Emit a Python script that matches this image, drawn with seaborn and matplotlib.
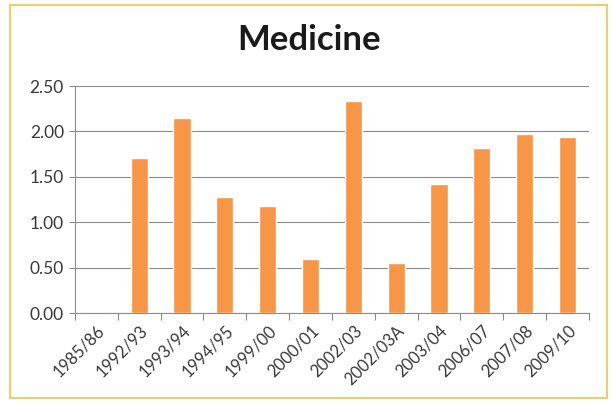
import matplotlib
matplotlib.use("Agg")
import matplotlib.pyplot as plt
from matplotlib.patches import Rectangle
import seaborn as sns
import pandas as pd

# Academic years and their values for Medicine
years = ["1985/86", "1992/93", "1993/94", "1994/95", "1999/00", "2000/01",
         "2002/03", "2002/03A", "2003/04", "2006/07", "2007/08", "2009/10"]
values = [0.00, 1.71, 2.15, 1.28, 1.18, 0.60, 2.34, 0.55, 1.42, 1.82, 1.97, 1.94]

df = pd.DataFrame({"year": years, "value": values})

sns.set_theme(style="white")
plt.rcParams["font.family"] = ["Lato", "DejaVu Sans"]

fig = plt.figure(figsize=(6.12, 4.03), dpi=100)
ax = fig.add_axes([0.1225, 0.2233, 0.8399, 0.5633])

sns.barplot(data=df, x="year", y="value", color="#F79646", saturation=1,
            width=0.40, ax=ax)

ax.set_ylim(0, 2.5)
ax.set_xlim(-0.5, len(years) - 0.5)
ax.set_yticks([0, 0.5, 1.0, 1.5, 2.0, 2.5])
ax.set_yticklabels([f"{v:.2f}" for v in [0, 0.5, 1.0, 1.5, 2.0, 2.5]])
ax.yaxis.grid(True, color="#8c8c8c", linewidth=0.8)
ax.set_axisbelow(True)
ax.set_xlabel("")
ax.set_ylabel("")

# category labels at centres, tick marks at category boundaries
ax.set_xticks(range(len(years)))
ax.set_xticklabels(years, rotation=45, ha="right", rotation_mode="anchor")
ax.set_xticks([i - 0.5 for i in range(len(years) + 1)], minor=True)
ax.tick_params(axis="x", which="major", length=0, pad=7, labelsize=12,
               labelcolor="#3a3a3a")
ax.tick_params(axis="x", which="minor", length=5, width=0.8, color="#8c8c8c",
               direction="out", bottom=True)
ax.tick_params(axis="y", length=4, width=0.8, color="#8c8c8c", labelsize=12.5,
               labelcolor="#3a3a3a", pad=4, left=True)

for side in ("top", "right"):
    ax.spines[side].set_visible(False)
for side in ("left", "bottom"):
    ax.spines[side].set_color("#8c8c8c")
    ax.spines[side].set_linewidth(0.8)

fig.text(0.505, 0.90, "Medicine", ha="center", va="center", fontsize=25,
         fontweight="bold", color="#1a1a1a")

# chart frame
fig.patches.append(Rectangle((10 / 612, 5 / 403), 597 / 612, 393 / 403,
                             transform=fig.transFigure, fill=False,
                             edgecolor="#EBCF72", linewidth=1.6))

fig.savefig("out.png", dpi=100, facecolor="white")
